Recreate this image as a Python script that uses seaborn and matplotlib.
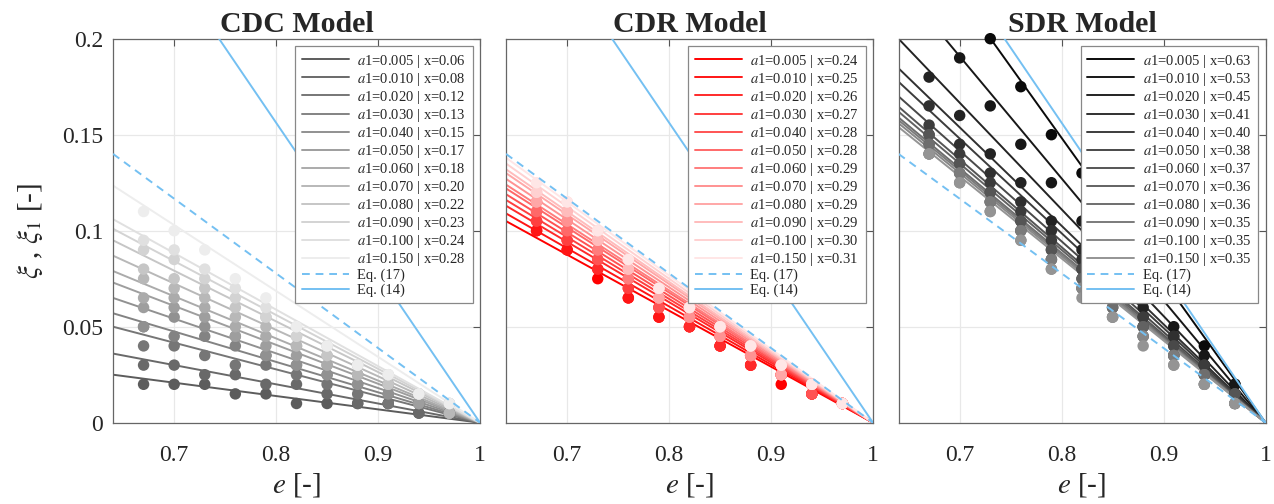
import numpy as np
import pandas as pd
import matplotlib
matplotlib.use('Agg')
import matplotlib.pyplot as plt
import seaborn as sns
from matplotlib.ticker import FuncFormatter

#%% data
e_pts = [0.67, 0.70, 0.73, 0.76, 0.79, 0.82, 0.85, 0.88, 0.91, 0.94, 0.97]
a1_vals = ['0.005', '0.010', '0.020', '0.030', '0.040', '0.050',
           '0.060', '0.070', '0.080', '0.090', '0.100', '0.150']
e_left = 0.64

# CDC model
cdc_x = ['0.06', '0.08', '0.12', '0.13', '0.15', '0.17', '0.18', '0.20', '0.22', '0.23', '0.24', '0.28']
cdc_left = [0.025, 0.036, 0.050, 0.057, 0.065, 0.073, 0.079, 0.087, 0.095, 0.101, 0.106, 0.1235]
cdc_pts = [
    [0.020, 0.020, 0.020, 0.015, 0.015, 0.010, 0.010, 0.010, 0.010, 0.005, 0.005],
    [0.030, 0.030, 0.025, 0.025, 0.020, 0.020, 0.015, 0.010, 0.010, 0.005, 0.005],
    [0.040, 0.040, 0.035, 0.030, 0.030, 0.025, 0.020, 0.015, 0.010, 0.010, 0.005],
    [0.050, 0.045, 0.045, 0.040, 0.035, 0.030, 0.025, 0.020, 0.015, 0.010, 0.005],
    [0.050, 0.055, 0.050, 0.045, 0.035, 0.030, 0.025, 0.020, 0.015, 0.010, 0.005],
    [0.060, 0.060, 0.055, 0.045, 0.040, 0.035, 0.030, 0.025, 0.020, 0.010, 0.005],
    [0.065, 0.065, 0.060, 0.050, 0.045, 0.040, 0.030, 0.025, 0.020, 0.015, 0.005],
    [0.075, 0.070, 0.065, 0.055, 0.050, 0.040, 0.035, 0.025, 0.020, 0.015, 0.005],
    [0.080, 0.075, 0.070, 0.060, 0.055, 0.045, 0.035, 0.030, 0.020, 0.015, 0.010],
    [0.090, 0.085, 0.075, 0.065, 0.055, 0.045, 0.040, 0.030, 0.025, 0.015, 0.010],
    [0.095, 0.090, 0.080, 0.070, 0.060, 0.050, 0.040, 0.030, 0.025, 0.015, 0.010],
    [0.110, 0.100, 0.090, 0.075, 0.065, 0.050, 0.040, 0.030, 0.025, 0.015, 0.010],
]

# CDR model
cdr_x = ['0.24', '0.25', '0.26', '0.27', '0.28', '0.28', '0.29', '0.29', '0.29', '0.29', '0.30', '0.31']
cdr_left = [0.105, 0.109, 0.113, 0.116, 0.119, 0.122, 0.124, 0.127, 0.130, 0.132, 0.135, 0.138]
cdr_pts = [
    [0.100, 0.090, 0.075, 0.065, 0.055, 0.050, 0.040, 0.030, 0.020, 0.015, 0.010],
    [0.100, 0.090, 0.080, 0.065, 0.055, 0.050, 0.040, 0.030, 0.025, 0.015, 0.010],
    [0.105, 0.095, 0.080, 0.070, 0.060, 0.050, 0.040, 0.030, 0.025, 0.015, 0.010],
    [0.105, 0.095, 0.085, 0.070, 0.060, 0.055, 0.045, 0.035, 0.025, 0.015, 0.010],
    [0.110, 0.100, 0.085, 0.075, 0.060, 0.055, 0.045, 0.035, 0.025, 0.015, 0.010],
    [0.110, 0.100, 0.090, 0.075, 0.065, 0.055, 0.045, 0.035, 0.025, 0.020, 0.010],
    [0.115, 0.105, 0.090, 0.075, 0.065, 0.055, 0.045, 0.035, 0.025, 0.020, 0.010],
    [0.115, 0.105, 0.095, 0.080, 0.065, 0.055, 0.045, 0.035, 0.025, 0.020, 0.010],
    [0.115, 0.110, 0.095, 0.080, 0.065, 0.060, 0.050, 0.040, 0.025, 0.020, 0.010],
    [0.120, 0.110, 0.095, 0.080, 0.070, 0.060, 0.050, 0.040, 0.030, 0.020, 0.010],
    [0.120, 0.115, 0.100, 0.085, 0.070, 0.060, 0.050, 0.040, 0.030, 0.020, 0.010],
    [0.125, 0.115, 0.100, 0.085, 0.070, 0.060, 0.050, 0.040, 0.030, 0.020, 0.010],
]

# SDR model
sdr_x = ['0.63', '0.53', '0.45', '0.41', '0.40', '0.38', '0.37', '0.36', '0.36', '0.35', '0.35', '0.35']
sdr_left = [0.267, 0.229, 0.200, 0.1846, 0.1776, 0.170, 0.1646, 0.162, 0.159, 0.1576, 0.156, 0.154]
sdr_pts = [
    [np.nan, np.nan, 0.200, 0.175, 0.150, 0.130, 0.110, 0.090, 0.065, 0.040, 0.020],
    [np.nan, 0.190, 0.165, 0.145, 0.125, 0.105, 0.085, 0.070, 0.050, 0.035, 0.020],
    [0.180, 0.160, 0.140, 0.125, 0.105, 0.090, 0.075, 0.060, 0.045, 0.030, 0.015],
    [0.165, 0.145, 0.130, 0.115, 0.100, 0.085, 0.070, 0.055, 0.045, 0.030, 0.015],
    [0.155, 0.140, 0.125, 0.110, 0.095, 0.080, 0.065, 0.055, 0.040, 0.030, 0.015],
    [0.150, 0.135, 0.120, 0.105, 0.090, 0.080, 0.065, 0.050, 0.040, 0.025, 0.015],
    [0.150, 0.135, 0.120, 0.105, 0.090, 0.075, 0.060, 0.050, 0.035, 0.025, 0.015],
    [0.145, 0.130, 0.115, 0.100, 0.085, 0.075, 0.060, 0.050, 0.035, 0.025, 0.010],
    [0.145, 0.130, 0.115, 0.100, 0.085, 0.070, 0.060, 0.045, 0.035, 0.025, 0.010],
    [0.140, 0.130, 0.115, 0.100, 0.085, 0.070, 0.055, 0.045, 0.035, 0.020, 0.010],
    [0.140, 0.125, 0.110, 0.095, 0.080, 0.070, 0.055, 0.045, 0.030, 0.020, 0.010],
    [0.140, 0.125, 0.110, 0.095, 0.080, 0.065, 0.055, 0.040, 0.030, 0.020, 0.010],
]

# reference curves
eq17_e = [0.64, 1.0]
eq17_xi = [0.14, 0.0]
eq14_e = [0.744, 1.0]
eq14_xi = [0.2, 0.0]

#%% style
sns.set_theme(style='white')
plt.rcParams['font.family'] = ['Liberation Serif', 'DejaVu Serif']
plt.rcParams['mathtext.fontset'] = 'stix'

blue = '#74c0f2'
n = len(a1_vals)
cdc_cols = [(g, g, g) for g in np.linspace(0.36, 0.93, n)]
cdr_cols = [(1.0, w, w) for w in np.linspace(0.0, 0.9, n)]
sdr_cols = [(g, g, g) for g in np.linspace(0.04, 0.58, n)]

panels = [
    ('CDC Model', cdc_x, cdc_left, cdc_pts, cdc_cols),
    ('CDR Model', cdr_x, cdr_left, cdr_pts, cdr_cols),
    ('SDR Model', sdr_x, sdr_left, sdr_pts, sdr_cols),
]

fig = plt.figure(figsize=(12.74, 5.04), dpi=100)
lefts = [113, 506, 898.5]
fmt = FuncFormatter(lambda v, p: '{:g}'.format(round(v, 3)))

for k, (title, xs, left, pts, cols) in enumerate(panels):
    ax = fig.add_axes([lefts[k] / 1274, 1 - 422.7 / 504, 367 / 1274, 384 / 504])
    ax.grid(True, color='#e8e8e8', lw=0.9)
    ax.set_axisbelow(True)

    for i in range(n):
        lab = r'$a$1={} | x={}'.format(a1_vals[i], xs[i])
        sns.lineplot(x=[e_left, 1.0], y=[left[i], 0.0], color=cols[i], lw=1.4,
                     label=lab, ax=ax, zorder=2)
        sns.scatterplot(x=e_pts, y=pts[i], color=cols[i], s=68, edgecolor='none',
                        ax=ax, zorder=3, clip_on=False, legend=False)

    sns.lineplot(x=eq17_e, y=eq17_xi, color=blue, lw=1.4, ax=ax, label='Eq. (17)', zorder=4)
    ax.lines[-1].set_dashes((4, 3))
    sns.lineplot(x=eq14_e, y=eq14_xi, color=blue, lw=1.4, ax=ax, label='Eq. (14)', zorder=4)

    ax.set_xlim(0.64, 1.0)
    ax.set_ylim(0, 0.2)
    ax.set_xticks([0.7, 0.8, 0.9, 1.0])
    ax.set_yticks([0, 0.05, 0.1, 0.15, 0.2])
    ax.xaxis.set_major_formatter(fmt)
    ax.yaxis.set_major_formatter(fmt)
    ax.tick_params(direction='in', length=5, width=0.8, color='#555555',
                   top=True, right=True, labelsize=17, labelcolor='#262626')
    ax.tick_params(axis='x', pad=16)
    ax.tick_params(axis='y', pad=7)
    if k > 0:
        ax.set_yticklabels([])
    for sp in ax.spines.values():
        sp.set_color('#666666')
        sp.set_linewidth(0.9)

    ax.set_title(title, fontsize=21.5, fontweight='bold', pad=5)
    ax.set_xlabel(r'$e$ [-]', fontsize=21, color='#262626', labelpad=4)
    ax.set_ylabel('')
    if k == 0:
        ax.set_ylabel(r'$\xi$ , $\xi_1$ [-]', fontsize=21, color='#262626', labelpad=12)

    leg = ax.legend(loc='upper right', fontsize=10.5, frameon=True, fancybox=False,
                    framealpha=1, edgecolor='#888888', handlelength=3.2,
                    labelspacing=0.07, borderpad=0.45, handletextpad=0.6,
                    borderaxespad=0.5)
    leg.get_frame().set_linewidth(0.9)
    leg.set_zorder(10)

fig.savefig('out.png', dpi=100)
